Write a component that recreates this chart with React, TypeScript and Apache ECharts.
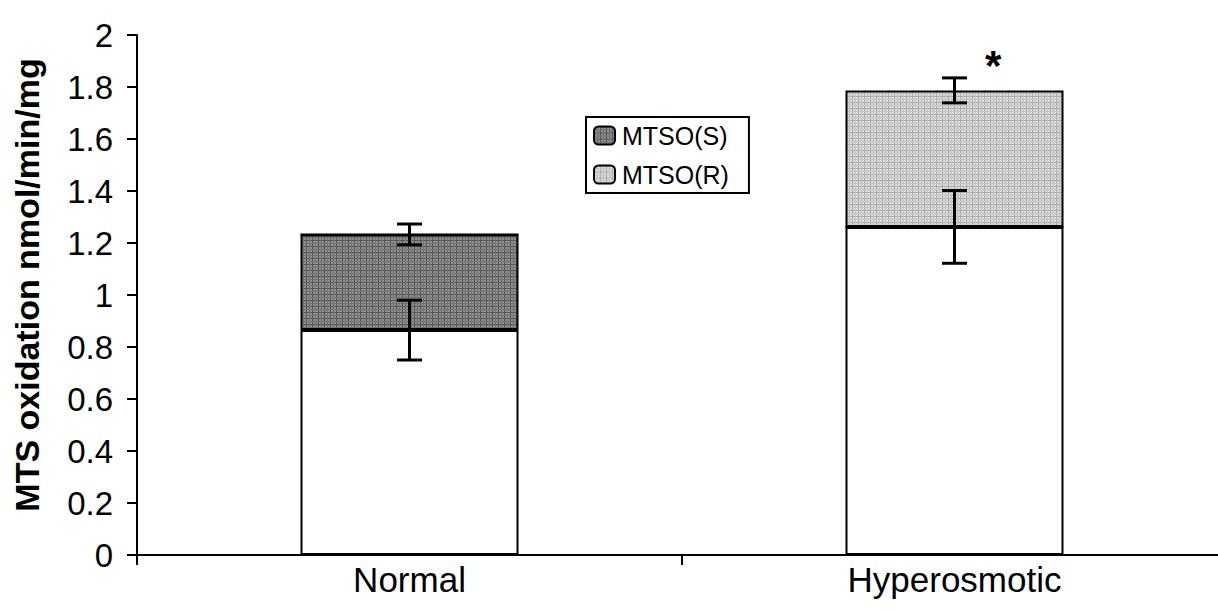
import React, { useEffect, useRef } from "react";
import * as echarts from "echarts";

const categories = ["Normal", "Hyperosmotic"];
const baseValues = [0.865, 1.262];
const baseErr = [0.115, 0.14];
const sValues = [0.368, 0];
const rValues = [0, 0.525];
const totalValues = [1.233, 1.787];
const totalErr = [0.04, 0.048];
const yTicks = [0, 0.2, 0.4, 0.6, 0.8, 1, 1.2, 1.4, 1.6, 1.8, 2];
const yTitle = "MTS oxidation nmol/min/mg";

function makePattern(bg: string, line: string, line2: string) {
  const c = document.createElement("canvas");
  c.width = 6;
  c.height = 6;
  const ctx = c.getContext("2d")!;
  ctx.fillStyle = bg;
  ctx.fillRect(0, 0, 6, 6);
  ctx.fillStyle = line;
  ctx.fillRect(0, 0, 6, 1);
  ctx.fillRect(0, 0, 1, 6);
  ctx.fillStyle = line2;
  ctx.fillRect(0, 3, 6, 1);
  ctx.fillRect(3, 0, 1, 6);
  return { image: c, repeat: "repeat" as const };
}

export default function App() {
  const ref = useRef<HTMLDivElement>(null);
  useEffect(() => {
    const chart = echarts.init(ref.current!, null, { renderer: "svg" });
    const darkFill = makePattern("#8e8e8e", "#555555", "#727272");
    const lightFill = makePattern("#dadada", "#ababab", "#c4c4c4");
    const font = "'Liberation Sans', Arial, sans-serif";
    const errData = [
      ...baseValues.map((v, i) => [i, v, baseErr[i]]),
      ...totalValues.map((v, i) => [i, v, totalErr[i]]),
    ];
    chart.setOption({
      animation: false,
      grid: { left: 137, right: 1, top: 35, bottom: 55 },
      legend: {
        data: ["MTSO(S)", "MTSO(R)"],
        orient: "vertical",
        left: 586,
        top: 117,
        padding: [6, 20, 6, 7],
        itemGap: 14,
        itemWidth: 21,
        itemHeight: 18,
        borderColor: "#000",
        borderWidth: 2,
        textStyle: { fontFamily: font, fontSize: 25, color: "#000", padding: [0, 0, 0, 2] },
      },
      xAxis: {
        type: "category",
        data: categories,
        axisLine: { lineStyle: { color: "#000", width: 2 } },
        axisTick: { show: true, length: 10, lineStyle: { color: "#000", width: 2 } },
        axisLabel: { fontFamily: font, fontSize: 35, color: "#000", margin: 7 },
      },
      yAxis: {
        type: "value",
        min: 0,
        max: 2,
        interval: 0.2,
        splitLine: { show: false },
        axisLine: { show: true, lineStyle: { color: "#000", width: 2 } },
        axisTick: { show: true, length: 10, lineStyle: { color: "#000", width: 2 } },
        axisLabel: {
          fontFamily: font,
          fontSize: 33,
          color: "#000",
          margin: 24,
          formatter: (v: number) => {
            const r = Math.round(v * 10) / 10;
            return yTicks.includes(r) ? String(r) : "";
          },
        },
      },
      series: [
        {
          name: "base",
          type: "bar",
          stack: "s",
          barWidth: "40%",
          data: baseValues,
          itemStyle: { color: "#fff", borderColor: "#000", borderWidth: 2 },
        },
        {
          name: "MTSO(S)",
          type: "bar",
          stack: "s",
          data: sValues,
          itemStyle: { color: darkFill, borderColor: "#000", borderWidth: 2 },
        },
        {
          name: "MTSO(R)",
          type: "bar",
          stack: "s",
          data: rValues,
          itemStyle: { color: lightFill, borderColor: "#000", borderWidth: 2 },
        },
        {
          name: "err",
          type: "custom",
          data: errData,
          z: 10,
          renderItem: (params: any, api: any) => {
            const x = api.value(0);
            const v = api.value(1);
            const e = api.value(2);
            const top = api.coord([x, v + e]);
            const bot = api.coord([x, v - e]);
            const hw = 12.5;
            const style = { stroke: "#000", lineWidth: 3 };
            return {
              type: "group",
              children: [
                { type: "line", shape: { x1: top[0], y1: top[1], x2: bot[0], y2: bot[1] }, style },
                { type: "line", shape: { x1: top[0] - hw, y1: top[1], x2: top[0] + hw, y2: top[1] }, style },
                { type: "line", shape: { x1: bot[0] - hw, y1: bot[1], x2: bot[0] + hw, y2: bot[1] }, style },
              ],
            };
          },
        },
      ],
      graphic: [
        {
          type: "text",
          x: 27,
          y: 285,
          rotation: Math.PI / 2,
          style: {
            text: yTitle,
            fontFamily: font,
            fontSize: 34,
            fontWeight: "bold",
            fill: "#000",
            textAlign: "center",
            textVerticalAlign: "middle",
          },
        },
        {
          type: "text",
          left: 985,
          top: 44,
          style: { text: "*", fontFamily: font, fontSize: 42, fontWeight: "bold", fill: "#000" },
        },
      ],
    });
    return () => chart.dispose();
  }, []);
  return (
    <div style={{ position: "fixed", left: 0, top: 0, width: 1218, height: 610, overflow: "hidden", background: "#fff" }}>
      <div ref={ref} style={{ position: "absolute", left: 0, top: 0, width: 1228, height: 610 }} />
    </div>
  );
}
